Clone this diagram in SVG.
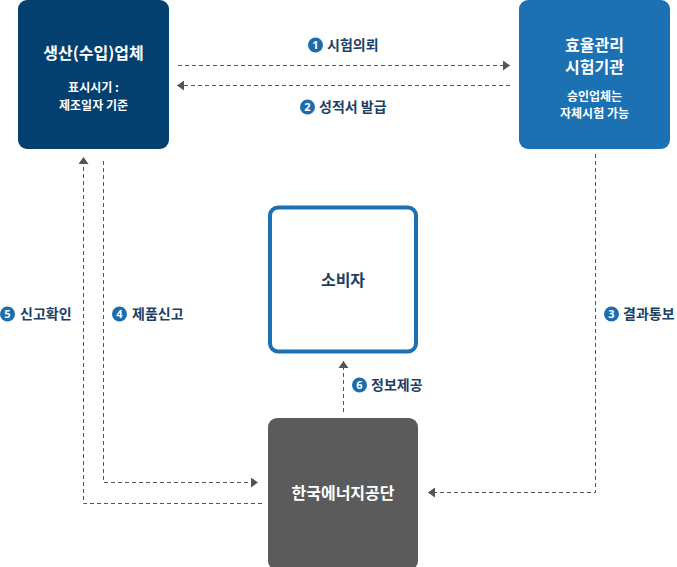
<svg xmlns="http://www.w3.org/2000/svg" width="677" height="567" viewBox="0 0 677 567">
<defs>
<marker id="ah" markerWidth="8" markerHeight="10" refX="7" refY="5" orient="auto" markerUnits="userSpaceOnUse">
<path d="M0,0 L7,5 L0,10 Z" fill="#555"/>
</marker>
<style>
.t{font-family:"Noto Sans CJK KR","Noto Sans",sans-serif;font-weight:700;text-anchor:middle}
.w{fill:#fff}
.big{font-size:16px}
.sm{font-size:12px}
.lbl{font-family:"Noto Sans CJK KR","Noto Sans",sans-serif;font-weight:700;font-size:14px;fill:#1c3f66}
.num{font-family:"Noto Sans",sans-serif;font-weight:700;font-size:11px;fill:#fff;text-anchor:middle}
.c{fill:#1c6cae}
.d{fill:none;stroke:#555;stroke-width:1;stroke-dasharray:4 3}
</style>
</defs>
<rect width="677" height="567" fill="#fff"/>
<g id="connectors">
<path class="d" d="M178,65.5 H510" marker-end="url(#ah)"/>
<path class="d" d="M510,85.5 H177" marker-end="url(#ah)"/>
<path class="d" d="M595.5,154 V492.5 H428" marker-end="url(#ah)"/>
<path class="d" d="M103.5,161 V482.5 H258" marker-end="url(#ah)"/>
<path class="d" d="M262,503.5 H83.5 V157" marker-end="url(#ah)"/>
<path class="d" d="M343.5,412 V361" marker-end="url(#ah)"/>
</g>
<g id="labels">
<g id="l1"><circle class="c" cx="315.5" cy="45" r="7.5"/><text class="num" x="315.5" y="49">1</text><text class="lbl" x="327" y="50">시험의뢰</text></g>
<g id="l2"><circle class="c" cx="307.5" cy="107" r="7.5"/><text class="num" x="307.5" y="111">2</text><text class="lbl" x="319" y="112">성적서 발급</text></g>
<g id="l3"><circle class="c" cx="611.5" cy="314" r="7.5"/><text class="num" x="611.5" y="318">3</text><text class="lbl" x="623" y="319">결과통보</text></g>
<g id="l4"><circle class="c" cx="119.5" cy="314" r="7.5"/><text class="num" x="119.5" y="318">4</text><text class="lbl" x="132" y="319">제품신고</text></g>
<g id="l5"><circle class="c" cx="7.5" cy="314" r="7.5"/><text class="num" x="7.5" y="318">5</text><text class="lbl" x="20" y="319">신고확인</text></g>
<g id="l6"><circle class="c" cx="359.5" cy="385" r="7.5"/><text class="num" x="359.5" y="389">6</text><text class="lbl" x="371" y="390">정보제공</text></g>
</g>
<g id="node-maker">
<rect x="18" y="0" width="151" height="149" rx="9" fill="#03406f"/>
<text class="t w big" x="93.5" y="59">생산(수입)업체</text>
<text class="t w sm" x="93.5" y="92">표시시기 :</text>
<text class="t w sm" x="93.5" y="110">제조일자 기준</text>
</g>
<g id="node-lab">
<rect x="519" y="0" width="151" height="149" rx="9" fill="#1b71b1"/>
<text class="t w big" x="594.5" y="51">효율관리</text>
<text class="t w big" x="594.5" y="73">시험기관</text>
<text class="t w sm" x="594.5" y="101">승인업체는</text>
<text class="t w sm" x="594.5" y="118">자체시험 가능</text>
</g>
<g id="node-consumer">
<rect x="270" y="207.5" width="146" height="144" rx="8" fill="#fff" stroke="#1b71b1" stroke-width="4"/>
<text class="t big" x="343" y="286" fill="#1c3f66">소비자</text>
</g>
<g id="node-kea">
<rect x="268" y="418" width="150" height="152" rx="9" fill="#5b5b5b"/>
<text class="t w big" x="343" y="499">한국에너지공단</text>
</g>
</svg>
